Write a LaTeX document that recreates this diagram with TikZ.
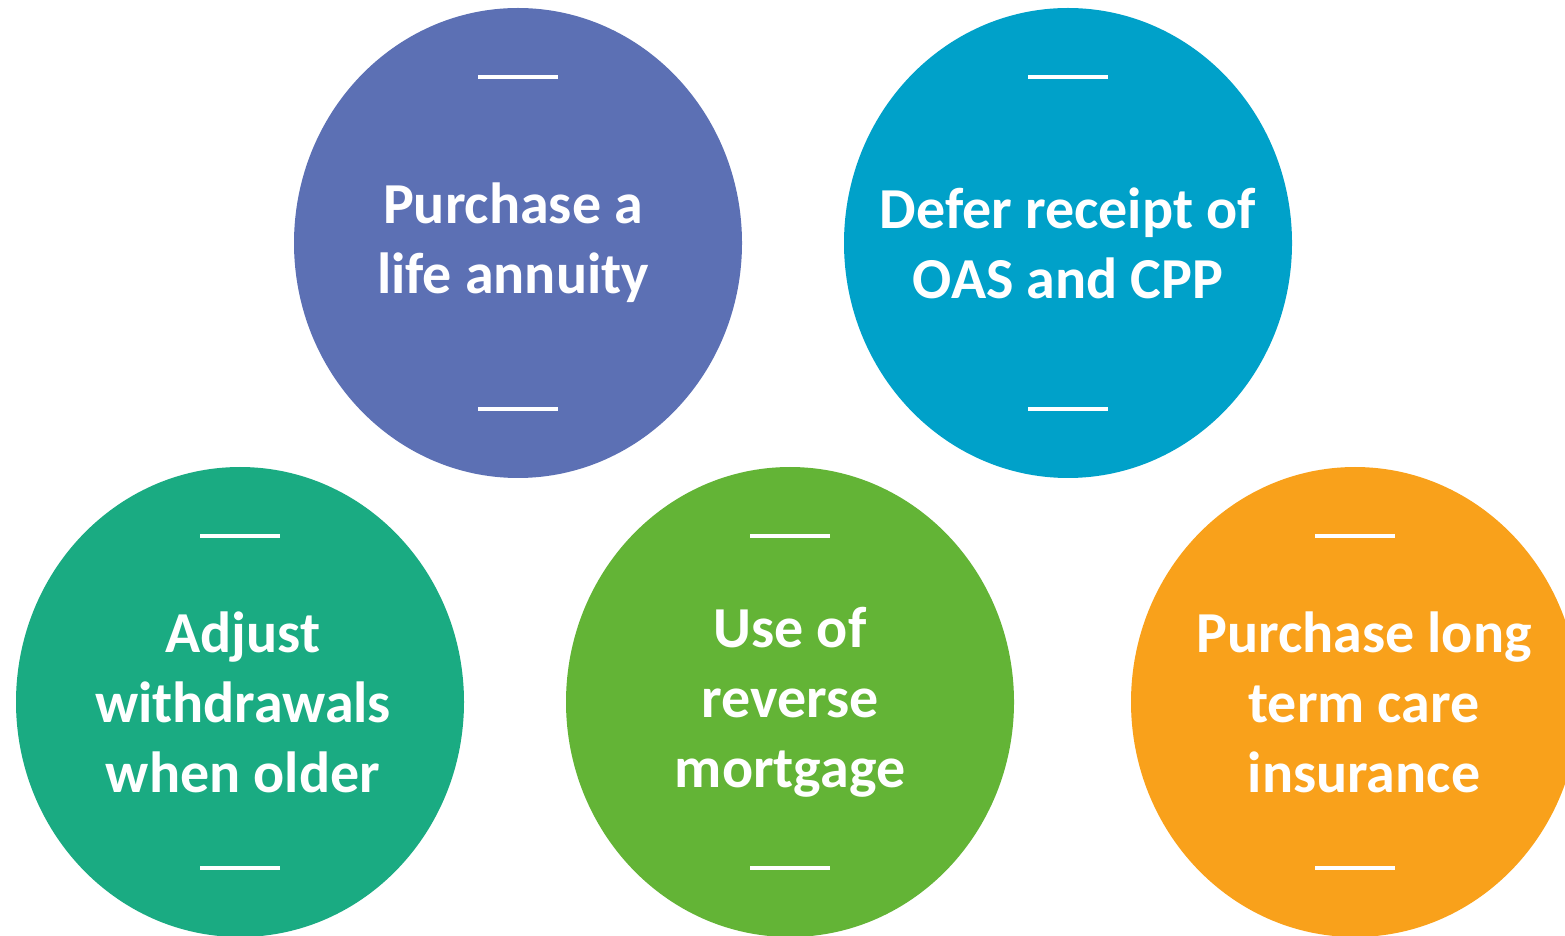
\documentclass[tikz,border=0pt]{standalone}
\usepackage{fontspec}
\setmainfont{Carlito}
\usepackage{tikz}
\usetikzlibrary{shapes.geometric}

\definecolor{bubpurple}{HTML}{5C70B4}
\definecolor{bubblue}{HTML}{00A1C9}
\definecolor{bubteal}{HTML}{1AAB82}
\definecolor{bubgreen}{HTML}{63B436}
\definecolor{buborange}{HTML}{F9A11B}

\tikzset{
  bubble/.style={ellipse, inner sep=0pt, minimum width=448pt, minimum height=470pt},
  caption/.style={text=white, align=center, font=\bfseries\fontsize{58}{70}\selectfont},
  bar/.style={white, line width=3.5pt}
}

\begin{document}
\begin{tikzpicture}[x=1pt,y=1pt]
		\useasboundingbox (0,0) rectangle (1565,935);
		\clip (0,0) rectangle (1565,935);

		\node[bubble,fill=bubpurple] (A) at (518,692) {};
		\node[bubble,fill=bubblue] (B) at (1068,692) {};
		\node[bubble,fill=bubteal] (C) at (240,233) {};
		\node[bubble,fill=bubgreen] (D) at (790,233) {};
		\node[bubble,fill=buborange] (E) at (1355,233) {};

		\node[caption] (A-text) at ([xshift=-5]A) {Purchase a\\life annuity};
		\node[caption] (B-text) at (B) {Defer receipt of\\OAS and CPP};
		\node[caption] (C-text) at ([xshift=3]C) {Adjust\\withdrawals\\when older};
		\node[caption] (D-text) at (D) {Use of\\reverse\\mortgage};
		\node[caption] (E-text) at ([xshift=9]E) {Purchase long\\term care\\insurance};

		% short bars above and below each label
		\foreach \n in {A,B,C,D,E}{
			\draw[bar] ([shift={(-40,166)}]\n.center) -- ++(80,0);
			\draw[bar] ([shift={(-40,-166)}]\n.center) -- ++(80,0);
		}
\end{tikzpicture}
\end{document}
